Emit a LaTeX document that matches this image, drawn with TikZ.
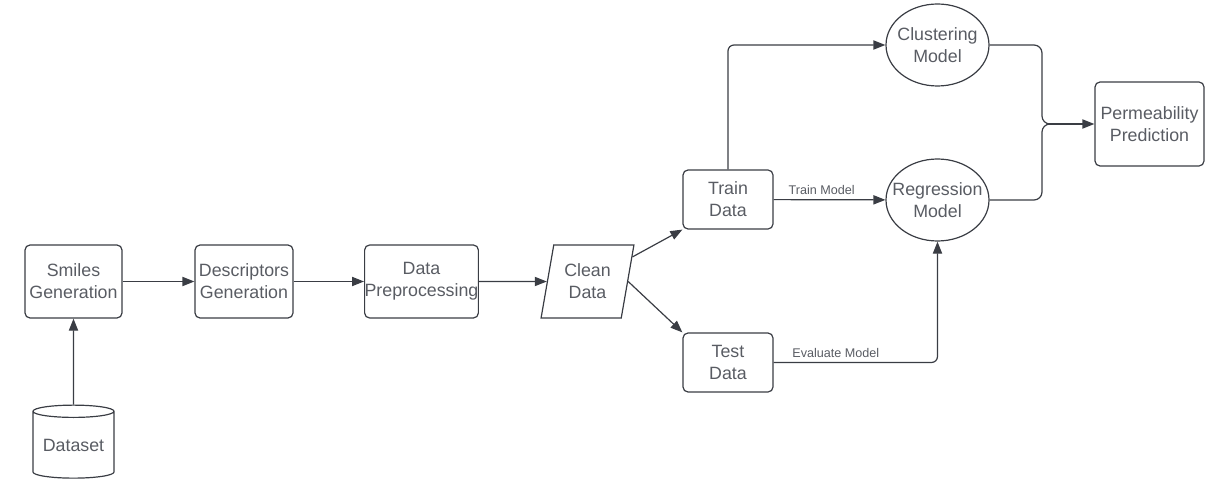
\documentclass[tikz,border=0pt]{standalone}
\usepackage{fontspec}
\setmainfont{Liberation Sans}
\usetikzlibrary{arrows.meta, shapes.geometric}
\definecolor{linegray}{HTML}{3A3D44}
\definecolor{textgray}{HTML}{595C63}

\begin{document}
\begin{tikzpicture}[
    x=0.5pt,
    y=-0.5pt,
    >={Triangle[length=6pt,width=4.6pt]},
    line width=0.6pt,
    draw=linegray,
    box/.style={
        rectangle,
        rounded corners=2.5pt,
        draw=linegray,
        text=textgray,
        font=\fontsize{8.9}{11}\selectfont,
        align=center,
        inner sep=0pt
    },
    model/.style={
        ellipse,
        draw=linegray,
        text=textgray,
        font=\fontsize{8.9}{11}\selectfont,
        align=center,
        inner xsep=-5pt,
        inner ysep=0pt,
        minimum width=51.5pt,
        minimum height=41pt
    },
    datashape/.style={
        trapezium,
        trapezium left angle=76,
        trapezium right angle=104,
        trapezium stretches=true,
        draw=linegray,
        text=textgray,
        font=\fontsize{8.9}{11}\selectfont,
        align=center,
        inner sep=0pt,
        minimum width=46.5pt,
        minimum height=36.5pt
    },
    store/.style={
        cylinder,
        shape border rotate=90,
        aspect=0.2,
        draw=linegray,
        text=textgray,
        font=\fontsize{8.9}{11}\selectfont,
        inner sep=0pt,
        minimum width=40.5pt,
        minimum height=36.5pt
    },
    flow/.style={
        ->,
        draw=linegray
    },
    edgetext/.style={
        text=textgray,
        font=\fontsize{6.3}{7.5}\selectfont,
        inner sep=2pt
    }
]
    \useasboundingbox (0,0) rectangle (1227,492);

    % Input
    \node[store] (data) at (73.5,445) {Dataset};

    % Preparation steps
    \node[box, minimum width=48.5pt, minimum height=36.5pt] (smiles) at (73.5,281.5)
        {Smiles\\Generation};
    \node[box, minimum width=49pt, minimum height=36.5pt] (desc) at (244,281.5)
        {Descriptors\\Generation};
    \node[box, minimum width=54.5pt, minimum height=36.5pt] (prep) at (421.5,281.5)
        {Data\\Preprocessing};
    \node[datashape] (clean) at (587.5,281.5) {Clean\\Data};

    % Split
    \node[box, minimum width=45pt, minimum height=29.5pt] (train) at (728,199.5)
        {Train\\Data};
    \node[box, minimum width=45pt, minimum height=29.5pt] (test) at (728,362.5)
        {Test\\Data};

    % Models
    \node[model] (clust) at (937.5,45) {Clustering\\Model};
    \node[model] (regr) at (937.5,200) {Regression\\Model};

    % Output
    \node[box, minimum width=54.5pt, minimum height=42pt] (perm) at (1149.5,124)
        {Permeability\\Prediction};

    \coordinate (mid) at (1042,124);
    \coordinate (join) at (1049,124);

    % Connections
    \draw[flow] (data) -- (smiles);
    \draw[flow] (smiles) -- (desc);
    \draw[flow] (desc) -- (prep);
    \draw[flow] (prep) -- (clean);
    \draw[flow] (clean) -- (train.south west);
    \draw[flow] (clean.east) -- (test.north west);

    \draw[flow, rounded corners=3pt] (train.north) |- (clust.west);
    \draw[flow] (train) -- node[edgetext, above, pos=0.43] {Train Model} (regr);
    \draw[flow, rounded corners=3pt] (test.east) -|
        node[edgetext, above, pos=0.19] {Evaluate Model} (regr.south);

    \draw[rounded corners=4pt] (clust.east) -| (mid) -- (join);
    \draw[rounded corners=4pt] (regr.east) -| (mid) -- (join);
    \draw[flow] (join) -- (perm);

\end{tikzpicture}
\end{document}
